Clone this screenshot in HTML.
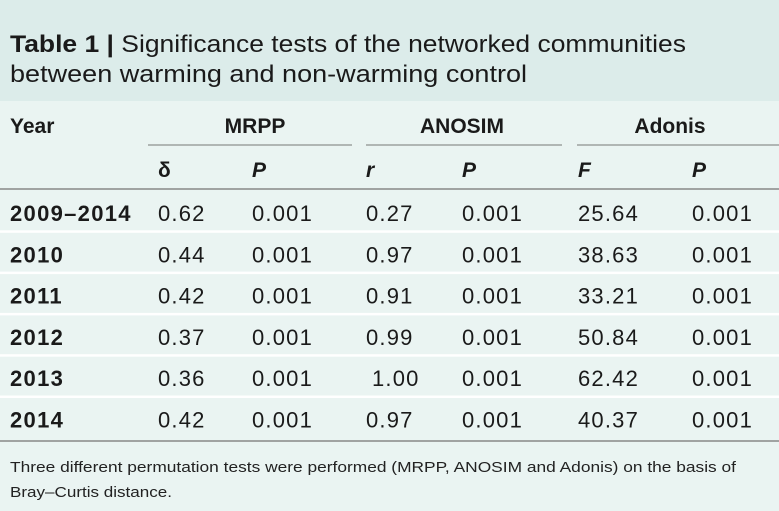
<!DOCTYPE html>
<html><head><meta charset="utf-8"><style>
html,body{margin:0;padding:0;background:#eaf4f2;}
svg{display:block;font-family:"Liberation Sans",sans-serif;}
</style></head><body>
<svg id="tbl" width="779" height="511" xmlns="http://www.w3.org/2000/svg">
<rect x="0" y="0" width="779" height="511" fill="#eaf4f2"/>
<rect x="0" y="0" width="779" height="101" fill="#dcecea"/>
<text x="10" y="52" font-size="24" fill="#1a1a1a" textLength="676" lengthAdjust="spacingAndGlyphs"><tspan font-weight="bold">Table 1 |</tspan> Significance tests of the networked communities</text>
<text x="10" y="82" font-size="24" fill="#1a1a1a" textLength="517" lengthAdjust="spacingAndGlyphs">between warming and non-warming control</text>
<g font-weight="bold" font-size="21" fill="#1a1a1a">
<text x="10" y="133">Year</text>
<text x="255" y="133" text-anchor="middle">MRPP</text>
<text x="462" y="133" text-anchor="middle">ANOSIM</text>
<text x="670" y="133" text-anchor="middle">Adonis</text>
</g>
<line x1="148" y1="145" x2="352" y2="145" stroke="#777" stroke-width="1"/>
<line x1="366" y1="145" x2="562" y2="145" stroke="#777" stroke-width="1"/>
<line x1="577" y1="145" x2="779" y2="145" stroke="#777" stroke-width="1"/>
<g font-weight="bold" font-style="italic" font-size="21" fill="#1a1a1a">
<text x="158" y="177" font-style="normal">δ</text>
<text x="252" y="177">P</text>
<text x="366" y="177">r</text>
<text x="462" y="177">P</text>
<text x="578" y="177">F</text>
<text x="692" y="177">P</text>
</g>
<line x1="0" y1="189" x2="779" y2="189" stroke="#888" stroke-width="1.5"/>
<g id="rows"></g>
<line x1="0" y1="441" x2="779" y2="441" stroke="#888" stroke-width="1.5"/>
<text x="10" y="472" font-size="15" fill="#222" textLength="726" lengthAdjust="spacingAndGlyphs">Three different permutation tests were performed (MRPP, ANOSIM and Adonis) on the basis of</text>
<text x="10" y="497" font-size="15" fill="#222" textLength="162" lengthAdjust="spacingAndGlyphs">Bray–Curtis distance.</text>
</svg>
<script>
const years = ["2009–2014","2010","2011","2012","2013","2014"];
const mrppDelta = ["0.62","0.44","0.42","0.37","0.36","0.42"];
const mrppP = ["0.001","0.001","0.001","0.001","0.001","0.001"];
const anosimR = ["0.27","0.97","0.91","0.99","1.00","0.97"];
const anosimP = ["0.001","0.001","0.001","0.001","0.001","0.001"];
const adonisF = ["25.64","38.63","33.21","50.84","62.42","40.37"];
const adonisP = ["0.001","0.001","0.001","0.001","0.001","0.001"];
const NS = "http://www.w3.org/2000/svg";
const g = document.getElementById("rows");
const rowY = i => 221 + i * 41.3;
const cols = [[mrppDelta,158,"delta"],[mrppP,252,"mrpp-p"],[anosimR,366,"anosim-r"],[anosimP,462,"anosim-p"],[adonisF,578,"adonis-f"],[adonisP,692,"adonis-p"]];
years.forEach((y, i) => {
  if (i > 0) {
    const ln = document.createElementNS(NS, "rect");
    ln.setAttribute("x", 0); ln.setAttribute("y", rowY(i) - 32);
    ln.setAttribute("width", 779); ln.setAttribute("height", 2.5);
    ln.setAttribute("fill", "#ffffff");
    
    
    g.appendChild(ln);
  }
  const t = document.createElementNS(NS, "text");
  t.setAttribute("x", 10); t.setAttribute("y", rowY(i));
  t.setAttribute("font-size", 22); t.setAttribute("font-weight", "bold"); t.setAttribute("fill", "#1a1a1a");
  t.setAttribute("letter-spacing", "1.3");
  t.textContent = y;
  
  
  g.appendChild(t);
  cols.forEach(([arr, x, nm]) => {
    const c = document.createElementNS(NS, "text");
    let xx = x;
    if (nm === "anosim-r" && arr[i] === "1.00") xx += 6;
    c.setAttribute("x", xx); c.setAttribute("y", rowY(i));
    c.setAttribute("font-size", 22); c.setAttribute("fill", "#1a1a1a");
    c.setAttribute("letter-spacing", "1.2");
    c.textContent = arr[i];
    
    
    g.appendChild(c);
  });
});
</script>
</body></html>
